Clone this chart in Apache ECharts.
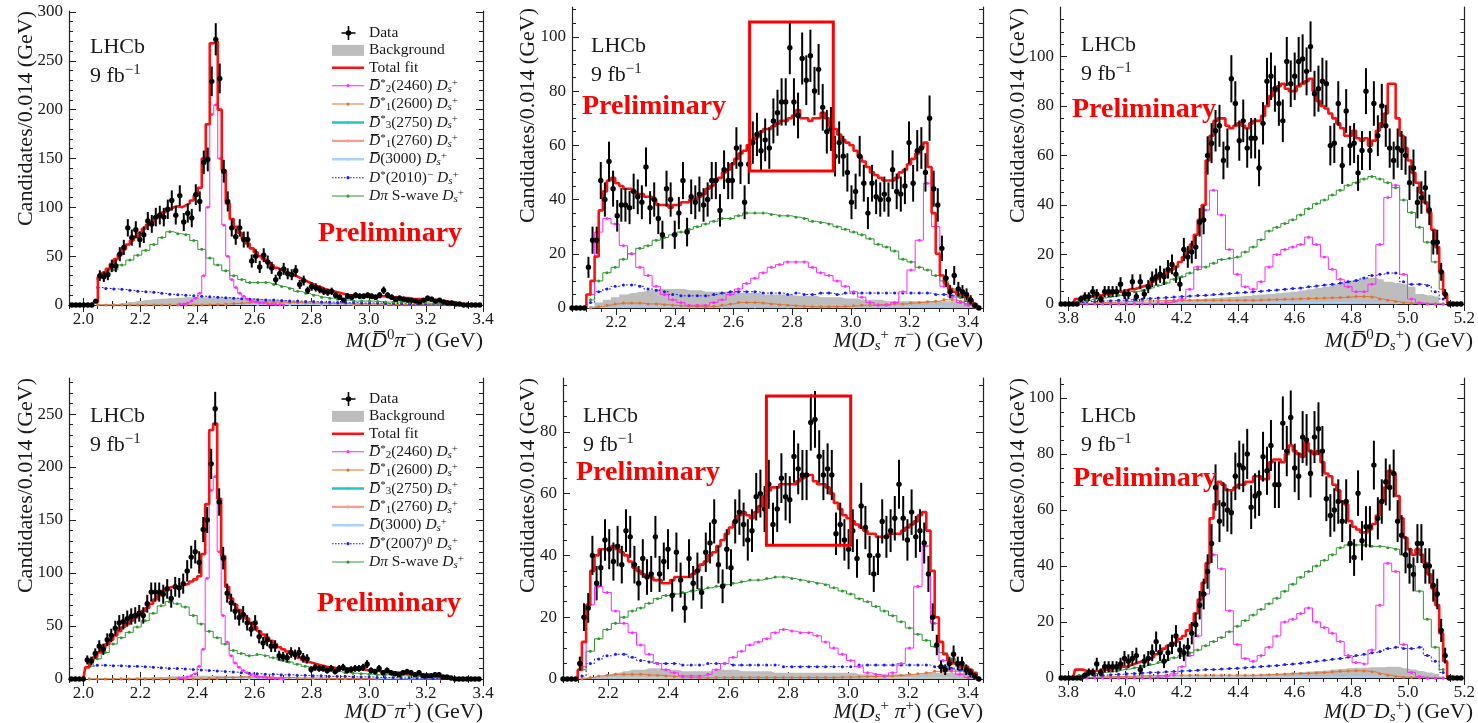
<!DOCTYPE html>
<html>
<head>
<meta charset="utf-8">
<title>LHCb amplitude fit projections</title>
<script src="https://cdn.jsdelivr.net/npm/echarts@6/dist/echarts.min.js"></script>
<style>
html, body { margin: 0; padding: 0; background: #fff; }
#main { width: 1478px; height: 723px; }
</style>
</head>
<body>
<div id="main"></div>
<script>
var BIN = 0.014, CBIN = 0.028, MBIN = 0.112;

// ---- M(D0bar pi-) , top left
var p1Start = 1.960;
var p1Data = [0,0,0,0,0,0,4,30,29,31,40,40,52,59,79,69,77,67,72,86,83,90,92,90,98,107,92,112,85,94,89,113,106,146,149,229,272,232,137,106,79,70,79,67,67,45,50,39,51,44,38,26,32,37,32,31,35,21,25,15,19,18,16,14,13,14,10,8,5,9,8,10,9,9,10,9,8,10,15,10,8,6,7,6,5,5,4,3,5,7,6,4,5,3,2,2,1,1,0,0,0,0,0];
var p1Fit = [0,0,0,0,0,0,3,29,33,37,42,47,52,57,62,66,70,74,78,82,85,89,92,95,98,100,101,100,102,104,107,112,120,150,185,268,270,200,138,104,88,80,74,68,63,58,54,50,47,44,41,38,36,34,32,31,29,27,25,23,21,19,18,16,15,14,13,12,11,10,10,9,9,9,9,9,9,9,9,8,8,8,7,7,7,6,6,6,5,5,5,5,4,4,3,3,2,1,1,0.5,0.3,0,0];
var p1CompStart = 2.051;
var p1Swave = [27,31,36,41,46,51,56,62,69,75,73,72,66,57,48,41,35,30,26,23,23,23,21,19,17,14,12,10,8,7,6,5,4,4,4,3.5,3,3,3,2.5,2,2,1.5,1.5,1,0.5,0.3,0];
var p1Dst = [18,17,16.5,16,15,14,13.5,13,12,11,10.5,10,9.5,9,8.5,8,7.5,7,6.5,6,5.5,5,5,4.5,4,4,3.5,3.5,3,3,2.5,2.5,2.5,2,2,2,1.5,1.5,1.5,1,1,1,1,0.5,0.5,0.5,0.3,0];
var p1Bkg = [0,0.5,1,2,3,4,5,6,6.5,7,7.5,8,8,8,8,8,8,7.5,7,7,6.5,6,5.5,5,4.5,4,3.5,3,3,2.5,2.5,2,2,2,1.5,1.5,1.5,1,1,1,1,0.5,0.5,0.5,0.5,0.3,0,0];
var p1D1 = [0,0,0,0,0,0,0,0,0,0,0,0,0,0,0.3,0.5,1,1.5,2,2.5,3,3,3,3,2.5,2.5,2,2,2,1.5,1.5,1.5,1,1,1,1,1,0.5,0.5,0.5,0.5,0.5,0.3,0.3,0.2,0,0,0];
var p1D2Start = 2.338;
var p1D2 = [1,1,2,4,7,12,30,100,195,205,150,82,50,26,18,12,9,6,4,3,2,2,1,1,0.5,0.5,0];
var p1Minor = [0.3,0.5,0.6,0.8,0.8,0.6,0.5,0.4,0.3,0.2,0.1,0.1];

// ---- M(Ds+ pi-) , top middle
var p2Start = 2.050;
var p2Data = [0,0,0,0,15,25,25,47,40,54,44,34,38,38,37,43,41,39,52,37,40,33,27,44,40,27,35,47,28,41,39,42,38,40,47,47,36,51,47,47,59,53,39,53,61,64,58,62,59,69,72,76,76,96,76,71,92,84,93,80,88,74,65,66,56,61,56,50,39,43,56,46,35,46,41,40,42,40,51,43,42,45,61,46,58,59,50,70,44,38,22,11,6,12,7,6,5,3,1,0];
var p2Fit = [0,0,0,0,5,10,19,36,43,47,48,46,45,44,44,43,42,42,41,41,40,38,38,38,37,38,38,39,39,40,40,41,42,44,45,47,48,50,51,53,55,57,58,60,62,63,65,66,66,67,68,69,69,70,71,73,70,70,69,70,70,72,70,67,66,64,62,61,60,58,56,54,52,50,49,48,47,47,47,48,50,51,53,55,57,59,61,52,35,20,12,9,7,6,5,5,4,3,1.5,0.5];
var p2CompStart = 2.113;
var p2D2 = [5,28,33,31,23,20,15,12,8,5,3,2,1,1,1,2,3,5,7,9,11,13,15,16,17,17,17,15,13,12,10,8,6,4,2,1,1,2,6,14,25,46,30,8,4,2,1,0];
var p2Swave = [3,10,13,15,18,20,22,23,25,26,27,28,29,30,31,32,33,33,34,35,35,35,34.5,34,34,33.5,33,32,31.5,31,30,29,28,27,25.5,23.5,22.5,21,18,17,15,14,12,10,7,4,1.5,0.5];
var p2Dst = [2,6,7,8,8.5,8.5,8,7,6.5,6,5,4.5,4.5,4.5,4.5,5,5.5,6,6,6,6,5.5,5.5,5.5,5,5.5,5,5,5.5,5.5,5,5.5,5.5,5.5,5.5,5.5,5.5,5.5,5.5,5.5,5.5,5.5,5,5,4.5,4,2.5,1];
var p2Bkg = [0.5,2,3,4,5,5.5,6,6.5,7,7,7,7,6.5,6.5,6,6,6,6,5.5,5.5,5.5,5,5,5,5,4.5,4.5,4.5,4,4,4,3.5,3.5,3,3,3,2.5,2.5,2.5,2.5,2.5,2.5,2.5,2.5,2.5,2,1.5,1];
var p2D1 = [0,0.5,1,1.5,1.8,1.8,1.8,1.5,1.5,1.2,1,0.8,0.6,0.5,0.5,0.6,1,1.5,2,2,2,1.8,1.5,1.2,1,0.8,0.6,0.5,0.5,0.5,0.5,0.6,0.8,1,1,1.2,1.3,1.5,1.5,1.8,2,2.3,2.5,3,3,2.5,2,1];
var p2Minor = [0.3,0.5,0.5,0.4,0.4,0.4,0.4,0.4,0.4,0.5,0.5,0.5];
var p2Box = [2.655, 50.5, 2.94, 105.5];

// ---- M(D0bar Ds+) , top right
var p3Start = 3.774;
var p3Data = [0,0,0,0,0,2,3,3,5,4,2,5,5,5,5,8,4,4,9,3,9,4,7,10,11,12,11,14,16,12,8,22,19,21,23,33,34,60,65,70,72,58,63,91,81,66,74,63,67,67,55,73,90,92,87,81,74,98,89,92,98,99,94,104,85,87,90,89,64,65,81,56,78,64,65,53,62,86,62,81,68,80,72,63,58,63,62,60,49,55,41,43,47,38,25,25,13,4,0,0,0,0];
var p3Fit = [0,0,0,0,2,2,2.5,3,3,3.5,3.5,4,4,4.5,5,5,5.5,6,6,6.5,7,7.5,8,9,10,11,12,13,14,15,17,19,21,24,28,34,40,58,68,74,75,75,72,71,72,73,72,71,73,74,74,76,80,84,86,88,89,87,86,86,88,89,90,91,86,82,80,79,77,75,73,71,68,68,70,67,66,67,64,66,70,73,77,89,89,75,68,63,58,53,49,45,41,37,30,23,13,4,0.5,0,0,0];
var p3CompStart = 3.837;
var p3D2 = [0,0,0,0,0,0,0,0,0,0,0.3,0.5,1,2,6,15,38,46,36,22,12,7,6,9,15,20,22,23,24,27,24,19,14,10,7,5,5,8,24,43,48,12,2,0.5,0,0,0];
var p3Swave = [1,1.5,2,2.5,3,3.5,4,5,5.5,6.5,7.5,8.5,10,11,12.5,14,15,16.5,18,18.5,19,21,23,26,29.5,31,32.5,34,36,38.5,40.5,42,44,46,48,49,50.5,51.5,50.5,49,47,42,37,31,25,17,6];
var p3Dst = [0.5,1,1,1.2,1.3,1.5,1.6,1.8,2,2.2,2.4,2.6,2.8,3,3.2,3.4,3.5,3.8,4,4.2,4.5,4.7,5,5.2,5.5,5.7,6,6.3,6.5,7,7.3,7.7,8,8.5,9,9.5,10.5,11.5,12,12.5,12.5,9,8,8,7.5,5,2];
var p3Bkg = [0,0,0,0.2,0.3,0.5,0.5,0.6,0.7,0.8,1,1.2,1.3,1.5,1.8,2,2.2,2.4,2.6,2.8,3,3.2,3.5,3.8,4,4.3,4.6,5,5.5,6,6.5,7,7.8,8.5,9.5,10,10.5,10.5,10,9,8.5,8,7,4,3.5,3,0.5];
var p3D1 = [0,0.3,0.5,0.6,0.7,0.8,1,1,1.2,1.2,1.3,1.4,1.5,1.5,1.5,1.5,1.5,1.5,1.5,1.5,1.5,1.5,1.5,1.6,1.7,1.8,1.9,2,2.1,2.2,2.3,2.4,2.5,2.6,2.8,3,3,2.8,2,1.5,1,0.5,0.3,0.2,0.1,0,0];
var p3Minor = [0.2,0.3,0.4,0.5,0.5,0.5,0.6,0.6,0.6,0.5,0.4,0.2];

// ---- M(D- pi+) , bottom left
var p4Start = 1.958;
var p4Data = [0,0,0,0,18,17,24,31,28,37,41,48,53,54,57,59,60,62,60,71,82,82,82,80,85,76,87,86,90,102,115,120,110,141,150,203,255,167,114,81,72,64,58,61,53,47,53,40,34,37,31,31,22,21,20,25,23,25,20,19,9,11,10,10,8,10,7,10,11,8,9,10,10,11,14,8,7,10,6,8,6,5,4,6,7,6,4,6,3,3,3,4,4,2,2,1,0,0,0,0,0,0,0];
var p4Fit = [0,0,0,0,11,17,21,25,29,33,37,41,45,49,52,55,58,61,64,67,71,75,79,83,86,87,87,88,89,90,92,94,97,118,165,235,241,170,116,87,76,70,65,61,57,53,49,45,42,39,36,33,30,28,26,24,22,20,18,16,15,14,13,12,11,11,10,10,10,10,9,9,9,9,8,8,8,7,7,7,6,6,6,5,5,5,4,4,4,3,3,2,2,1.5,1,0.5,0.3,0,0,0,0,0,0];
var p4CompStart = 2.021;
var p4Swave = [12,19,25,33,39,44,49,55,62,69,73,71,68,60,52,45,39,33,27,24,22,23,22,20,18,16,14,12,10,9,8,7,6,5.5,5,4.5,4,4,3.5,3,3,2.5,2.5,2,1.5,1,0.5,0.3,0];
var p4Dst = [12,13,13,12.5,12.5,12,12,11.5,11,10.5,10,10,9.5,9,8.5,8,7.5,7,6.5,6,5.5,5,4.5,4.5,4,4,3.5,3.5,3,3,2.5,2.5,2.5,2,2,2,1.5,1.5,1.5,1,1,1,1,0.5,0.5,0.5,0.3,0.2,0];
var p4Bkg = [0,0,0.5,0.5,1,1,1.5,1.5,2,2,2.5,2.5,3,3,3,3,3,2.5,2.5,2.5,2,2,2,1.5,1.5,1.5,1,1,1,1,0.5,0.5,0.5,0.5,0.5,0.3,0.3,0.3,0.2,0.2,0];
var p4D1 = [0,0,0,0,0,0,0,0,0,0,0,0,0,0,0,0.5,1,1.5,1.5,2,2,2,2,1.5,1.5,1.5,1,1,1,1,0.5,0.5,0.5,0.5,0.3,0.2,0];
var p4D2Start = 2.336;
var p4D2 = [1,1,2,3,5,12,28,95,178,191,120,60,35,22,15,11,8,6,4,3,2,2,1,1,0.5,0.5,0];
var p4Minor = [0.3,0.5,0.6,0.7,0.6,0.5,0.4,0.3,0.2,0.2,0.1,0.1];

// ---- M(Ds+ pi+) , bottom middle
var p5Start = 2.050;
var p5Data = [0,0,0,0,5,20,23,40,31,36,45,42,38,43,37,48,46,37,31,39,33,34,46,34,38,42,27,41,32,23,39,31,35,28,41,44,51,37,30,42,36,51,54,50,45,48,59,60,55,63,50,55,65,59,58,72,68,66,66,83,84,72,66,68,66,47,50,45,42,48,39,56,49,40,34,40,51,46,48,52,63,52,45,54,46,48,44,34,20,11,4,3,5,8,5,5,3,2,1,0];
var p5Fit = [0,0,0,0,3,12,24,35,40,42,42,42,43,42,41,40,38,36,35,34,33,33,32,32,31,31,32,33,33,33,33,34,35,37,38,40,41,43,45,47,49,51,53,54,53,52,54,56,59,61,62,62,63,63,63,63,64,65,66,66,64,63,63,62,60,57,55,53,52,51,50,49,48,47,47,46,46,46,47,47,47,48,49,50,51,53,54,48,35,20,12,8,6,5,5,4,4,3,2,0.5];
var p5CompStart = 2.113;
var p5D2 = [4,24,30,28,22,18,15,11,8,5,3,2,1,1,1,1.5,3,5,7,9,11,12,13,15,16,15.5,15,15,14,12,10,8,6,4,2,1.5,1,2,5,10,30,43,18,6,3,1.5,0.5,0];
var p5Swave = [3,9,13,16,18,20,22,23,24.5,26,27,27.5,28,28.5,29,29.5,30,30.5,31,31.5,32,32,32.5,33,33,32.5,32,31.5,31,30.5,29.5,28.5,27.5,26,25,23.5,22,20.5,18.5,16.5,14.5,12.5,10.5,8.5,6.5,4,2,0.5];
var p5Dst = [1,5,6.5,7.5,8,8,7,6,5.5,5,5,5,4.5,4.5,4.5,5,5,5,4.5,4.5,4.5,4.5,4.5,4.5,4,4,4,4,4,4,4,4,4,4.5,4.5,4.5,4.5,4.5,4.5,4.5,4.5,4.5,4,4,3.5,3,2,0.5];
var p5Bkg = [0,0.5,1,1.5,2,2.5,3,3,3.5,3.5,3,3,2.5,2.5,2.5,2.5,3,3,3,2.5,2.5,2.5,2.5,2,2,2,2,2,2,2,2,2,2,1.5,1.5,1.5,1.5,1.5,1.5,1.5,1.5,2,2,2,2,2,1.5,0.5];
var p5D1 = [0,0.5,1,1.2,1.5,1.5,1.5,1.5,1.3,1.2,1,0.8,0.6,0.5,0.4,0.4,0.5,0.5,0.5,0.5,0.5,0.5,0.5,0.5,0.5,0.5,0.5,0.5,0.5,0.5,0.5,0.6,0.6,0.7,0.8,0.8,0.9,1,1.2,1.5,1.7,2,2.5,2.5,2.5,2.5,2,1];
var p5Minor = [0.3,0.5,0.5,0.4,0.4,0.4,0.4,0.4,0.4,0.5,0.5,0.5];
var p5Box = [2.728, 43.3, 3.009, 91.6];

// ---- M(D- Ds+) , bottom right
var p6Start = 3.774;
var p6Data = [0,0,0,0,0,0,1,2,2,5,2,4,4,4,4,5,7,6,7,8,3,6,7,9,13,9,6,9,12,15,10,9,11,16,19,26,30,38,48,68,56,62,60,59,72,76,75,80,61,65,66,79,74,83,69,69,91,81,93,75,72,86,85,73,86,89,81,64,58,60,63,56,63,48,43,66,49,54,54,76,57,63,70,68,73,56,51,44,40,37,48,48,40,40,33,30,17,8,0,0,0,0];
var p6Fit = [0,0,0,0,3,3,2.5,2.5,2.5,2.5,3,3,3,3.5,3.5,4,4,4.5,5,5.5,6,6.5,7,7.5,8.5,9.5,10.5,11.5,12.5,13,14,15,17,19,23,28,34,41,57,62,70,69,67,67,68,69,69,70,70,72,72,71,71,77,78,78,77,80,83,81,80,79,84,81,80,81,77,73,72,69,67,63,62,56,54,53,52,52,53,55,58,63,68,74,73,65,57,50,46,44,46,44,41,37,32,26,16,6,0.5,0,0,0];
var p6CompStart = 3.837;
var p6D2 = [0,0,0,0,0,0,0,0,0,0,0.3,0.6,1.5,4,8,15,30,44,39,24,12,7,6,8,11,15,20,21,23,25,20,18,16,13,8,5.5,5,10,26,41,38,12,2,0.5,0,0,0];
var p6Swave = [1,1.3,1.6,2,2.4,2.8,3.2,3.7,4.2,4.8,5.5,6.3,7.2,8,9,10,11.5,13,14.5,16.5,18.5,20.5,22.5,24.5,26.5,28.5,31,33.5,36,38,40,42,44,46.5,47.5,47.5,47.5,47,47,46.5,46,44,40,31,21,11,3];
var p6Dst = [0.5,1,1,1,1.2,1.3,1.5,1.6,1.8,2,2,2.2,2.3,2.5,2.6,2.8,3,3,3.2,3.4,3.5,3.7,3.9,4.1,4.3,4.5,4.8,5,5.3,5.6,6,6.3,6.7,7,7.5,8,8.5,9,9.5,10.5,11,10.5,10.5,11,8,6,2];
var p6Bkg = [0,0,0,0,0,0,0,0,0,0,0.2,0.2,0.3,0.3,0.4,0.5,0.5,0.6,0.7,0.8,0.9,1,1.1,1.2,1.3,1.5,1.7,1.9,2.1,2.3,2.5,2.7,3,3.2,3.5,3.7,3.7,3.8,3.8,4,4,3.5,3,2.5,2,1.5,0.5];
var p6D1 = [0,0.2,0.3,0.4,0.5,0.5,0.6,0.7,0.8,0.8,0.9,1,1,1,1,1,1,1,1,1,1,1,1,1.1,1.2,1.3,1.4,1.5,1.6,1.7,1.8,2,2.2,2.4,2.5,2.6,2.5,2.2,1.5,1,0.5,0.3,0.2,0.1,0,0,0];
var p6Minor = [0.2,0.3,0.4,0.5,0.5,0.5,0.6,0.6,0.6,0.5,0.4,0.2];

var SERIF = '"Liberation Serif", "DejaVu Serif", serif';
var INK = '#1a1a1a';

function hist(start, step, vals) {
    return vals.map(function (v, i) { return [+(start + i * step).toFixed(4), v]; });
}
function range(a, b, s) {
    var out = [];
    for (var k = 0; a + k * s <= b + 1e-9; k++) out.push(+(a + k * s).toFixed(4));
    return out;
}

var panels = [
    {grid: {left: 69, top: 11, width: 414, height: 294}, x: [1.95, 3.4], xMaj: range(2.0, 3.4, 0.2), xMin: range(1.95, 3.4, 0.05),
     y: [0, 301], yMaj: range(0, 300, 50), yMin: range(0, 300, 10), dst: 'DstA',
     d: {start: p1Start, data: p1Data, fit: p1Fit, cs: p1CompStart, sw: p1Swave, dst: p1Dst, bkg: p1Bkg, d1: p1D1, d2s: p1D2Start, d2b: BIN, d2: p1D2, minor: p1Minor}},
    {grid: {left: 572, top: 7, width: 411, height: 301}, x: [2.05, 3.45], xMaj: range(2.2, 3.4, 0.2), xMin: range(2.05, 3.45, 0.05),
     y: [0, 111], yMaj: range(0, 100, 20), yMin: range(0, 110, 5), dst: 'DstA', box: p2Box,
     d: {start: p2Start, data: p2Data, fit: p2Fit, cs: p2CompStart, sw: p2Swave, dst: p2Dst, bkg: p2Bkg, d1: p2D1, d2s: p2CompStart, d2b: CBIN, d2: p2D2, minor: p2Minor}},
    {grid: {left: 1060, top: 7, width: 413, height: 297}, x: [3.77, 5.2], xMaj: range(3.8, 5.2, 0.2), xMin: range(3.8, 5.2, 0.05),
     y: [0, 120], yMaj: range(0, 100, 20), yMin: range(0, 115, 5), dst: 'DstA',
     d: {start: p3Start, data: p3Data, fit: p3Fit, cs: p3CompStart, sw: p3Swave, dst: p3Dst, bkg: p3Bkg, d1: p3D1, d2s: p3CompStart, d2b: CBIN, d2: p3D2, minor: p3Minor}},
    {grid: {left: 69, top: 378, width: 414, height: 301}, x: [1.95, 3.4], xMaj: range(2.0, 3.4, 0.2), xMin: range(1.95, 3.4, 0.05),
     y: [0, 284], yMaj: range(0, 250, 50), yMin: range(0, 280, 10), dst: 'DstB',
     d: {start: p4Start, data: p4Data, fit: p4Fit, cs: p4CompStart, sw: p4Swave, dst: p4Dst, bkg: p4Bkg, d1: p4D1, d2s: p4D2Start, d2b: BIN, d2: p4D2, minor: p4Minor}},
    {grid: {left: 563, top: 378, width: 420, height: 301}, x: [2.05, 3.45], xMaj: range(2.2, 3.4, 0.2), xMin: range(2.05, 3.45, 0.05),
     y: [0, 97.4], yMaj: range(0, 80, 20), yMin: range(0, 95, 5), dst: 'DstB', box: p5Box,
     d: {start: p5Start, data: p5Data, fit: p5Fit, cs: p5CompStart, sw: p5Swave, dst: p5Dst, bkg: p5Bkg, d1: p5D1, d2s: p5CompStart, d2b: CBIN, d2: p5D2, minor: p5Minor}},
    {grid: {left: 1060, top: 378, width: 413, height: 300}, x: [3.77, 5.2], xMaj: range(3.8, 5.2, 0.2), xMin: range(3.8, 5.2, 0.05),
     y: [0, 107.1], yMaj: range(0, 100, 20), yMin: range(0, 105, 5), dst: 'DstB',
     d: {start: p6Start, data: p6Data, fit: p6Fit, cs: p6CompStart, sw: p6Swave, dst: p6Dst, bkg: p6Bkg, d1: p6D1, d2s: p6CompStart, d2b: CBIN, d2: p6D2, minor: p6Minor}}
];

var AXIS_LINE = {show: true, lineStyle: {color: '#222', width: 1.2}};
function makeAxis(g, p, isY, position, major, withLabels) {
    var lim = isY ? p.y : p.x;
    var ax = {
        type: 'value', gridIndex: g, position: position, min: lim[0], max: lim[1],
        splitLine: {show: false},
        axisLine: major ? AXIS_LINE : {show: false},
        axisTick: {inside: true, length: major ? 7 : 4, customValues: major ? (isY ? p.yMaj : p.xMaj) : (isY ? p.yMin : p.xMin),
                   lineStyle: {color: '#222', width: 1}},
        axisLabel: {show: false}
    };
    if (withLabels) {
        ax.axisLabel = {show: true, customValues: isY ? p.yMaj : p.xMaj, margin: 6, color: INK,
                        fontFamily: SERIF, fontSize: 17,
                        formatter: isY ? function (v) { return String(v); } : function (v) { return v.toFixed(1); }};
    }
    return ax;
}

var xAxes = [], yAxes = [], grids = [], series = [];

function stepLine(name, g, pts, color, extra) {
    var s = {
        name: name, type: 'line', step: 'middle', xAxisIndex: 4 * g, yAxisIndex: 4 * g,
        data: pts, symbol: 'circle', symbolSize: 3, showSymbol: true, z: 3,
        itemStyle: {color: color}, lineStyle: {color: color, width: 1}
    };
    for (var k in extra) s[k] = extra[k];
    return s;
}

function dataSeries(g, pts) {
    return {
        name: 'Data', type: 'custom', xAxisIndex: 4 * g, yAxisIndex: 4 * g, z: 6,
        itemStyle: {color: '#000'},
        data: pts,
        encode: {x: 0, y: 1},
        renderItem: function (params, api) {
            var x = api.value(0), y = api.value(1), e = Math.sqrt(y);
            var c = api.coord([x, y]);
            var t = api.coord([x, y + e]), b = api.coord([x, y - e]);
            var l = api.coord([x - BIN / 2, y]), r = api.coord([x + BIN / 2, y]);
            return {type: 'group', children: [
                {type: 'line', shape: {x1: c[0], y1: t[1], x2: c[0], y2: b[1]}, style: {stroke: '#000', lineWidth: 2}},
                {type: 'line', shape: {x1: l[0], y1: c[1], x2: r[0], y2: c[1]}, style: {stroke: '#000', lineWidth: 1.5}},
                {type: 'circle', shape: {cx: c[0], cy: c[1], r: 2.7}, style: {fill: '#000'}}
            ]};
        }
    };
}

panels.forEach(function (p, g) {
    grids.push(p.grid);
    xAxes.push(makeAxis(g, p, false, 'bottom', true, true));
    xAxes.push(makeAxis(g, p, false, 'bottom', false, false));
    xAxes.push(makeAxis(g, p, false, 'top', true, false));
    xAxes.push(makeAxis(g, p, false, 'top', false, false));
    yAxes.push(makeAxis(g, p, true, 'left', true, true));
    yAxes.push(makeAxis(g, p, true, 'left', false, false));
    yAxes.push(makeAxis(g, p, true, 'right', true, false));
    yAxes.push(makeAxis(g, p, true, 'right', false, false));

    var d = p.d;
    series.push(stepLine('Background', g, hist(d.cs, CBIN, d.bkg), '#bdbdbd',
        {symbol: 'none', z: 1, lineStyle: {width: 0}, areaStyle: {color: '#bdbdbd', opacity: 1}}));
    series.push(stepLine('D3', g, hist(d.cs, MBIN, d.minor), '#1fc8c8', {symbolSize: 2.5}));
    series.push(stepLine('D1b', g, hist(d.cs, MBIN, d.minor), '#ff9a86', {symbolSize: 2.5}));
    series.push(stepLine('D3000', g, hist(d.cs, MBIN, d.minor), '#a9d3ff', {symbolSize: 2.5}));
    series.push(stepLine('D1', g, hist(d.cs, CBIN, d.d1), '#e4722a', {}));
    series.push(stepLine(p.dst, g, hist(d.cs, CBIN, d.dst), '#1a1aff', {lineStyle: {color: '#1a1aff', width: 1, type: [2, 2]}}));
    series.push(stepLine('Swave', g, hist(d.cs, CBIN, d.sw), '#2e9a2e', {}));
    series.push(stepLine('D2', g, hist(d.d2s, d.d2b, d.d2), '#ff2bff', {}));
    var fit = stepLine('Total fit', g, hist(d.start, BIN, d.fit), '#ff1010',
        {symbol: 'none', z: 4, lineStyle: {color: '#ff1010', width: 2.6}});
    if (p.box) {
        fit.markArea = {silent: true, z: 7,
            itemStyle: {color: 'rgba(0,0,0,0)', borderColor: '#ff0000', borderWidth: 3},
            data: [[{coord: [p.box[0], p.box[1]]}, {coord: [p.box[2], p.box[3]]}]]};
    }
    series.push(fit);
    series.push(dataSeries(g, hist(d.start, BIN, d.data)));
});

function rich(fs, lh, key) {
    var sm = Math.round(fs * 0.68);
    var base = {fontFamily: SERIF};
    function mk(o) { var r = {}; for (var k in base) r[k] = base[k]; for (var k2 in o) r[k2] = o[k2]; r[key] = INK; return r; }
    return {
        n: mk({fontSize: fs, lineHeight: lh, verticalAlign: 'middle'}),
        i: mk({fontSize: fs, lineHeight: lh, verticalAlign: 'middle', fontStyle: 'italic'}),
        sup: mk({fontSize: sm, lineHeight: sm, verticalAlign: 'top'}),
        sub: mk({fontSize: sm, lineHeight: sm, verticalAlign: 'bottom', fontStyle: 'italic'}),
        sb: mk({fontSize: sm, lineHeight: sm, verticalAlign: 'bottom'})
    };
}

var DS = '{i|D}{sub|s}{sup|+}';
var legendText = {
    'Data': '{n|Data}',
    'Background': '{n|Background}',
    'Total fit': '{n|Total fit}',
    'D2': '{i|D\u0305}{sup|*}{sb|2}{n|(2460) }' + DS,
    'D1': '{i|D\u0305}{sup|*}{sb|1}{n|(2600) }' + DS,
    'D3': '{i|D\u0305}{sup|*}{sb|3}{n|(2750) }' + DS,
    'D1b': '{i|D\u0305}{sup|*}{sb|1}{n|(2760) }' + DS,
    'D3000': '{i|D\u0305}{n|(3000) }' + DS,
    'DstA': '{i|D}{sup|*}{n|(2010)}{sup|\u2212}{n| }' + DS,
    'DstB': '{i|D\u0305}{sup|*}{n|(2007)}{sup|0}{n| }' + DS,
    'Swave': '{i|D\u03c0}{n| S-wave }' + DS
};

// legend glyphs, drawn in a 32x14 box (two corner specks fix the box size)
var BOXPIN = 'M0,0h0.1v0.1h-0.1z M31.9,13.9h0.1v0.1h-0.1z ';
var DOT = 'M17.6,7a1.6,1.6 0 1,1 -3.2,0a1.6,1.6 0 1,1 3.2,0z';
var DATA_ICON = 'path://' + BOXPIN + 'M15.7,0h1.6v14h-1.6z M9.5,6.2h14v1.6h-14z M19.2,7a2.7,2.7 0 1,1 -5.4,0a2.7,2.7 0 1,1 5.4,0z';
var LINE_ICON = 'path://' + BOXPIN + 'M0,6.5h32v1h-32z ' + DOT;
var BAND_ICON = 'path://' + BOXPIN + 'M0,5.8h32v2.4h-32z ' + DOT;
var FIT_ICON = 'path://' + BOXPIN + 'M0,5.7h32v2.6h-32z';
var dashes = '';
for (var dx = 0; dx < 32; dx += 3) dashes += 'M' + dx + ',6.5h1.6v1h-1.6z ';
var DASH_ICON = 'path://' + BOXPIN + dashes + DOT;

function legendItems(dst) {
    return [{name: 'Data', icon: DATA_ICON}, {name: 'Background', icon: 'path://M0,1.5h32v11h-32z'},
            {name: 'Total fit', icon: FIT_ICON}, {name: 'D2', icon: LINE_ICON}, {name: 'D1', icon: LINE_ICON},
            {name: 'D3', icon: BAND_ICON}, {name: 'D1b', icon: BAND_ICON}, {name: 'D3000', icon: BAND_ICON},
            {name: dst, icon: DASH_ICON}, {name: 'Swave', icon: LINE_ICON}];
}
function legendBox(top, dst) {
    return {
        orient: 'vertical', left: 327, top: top, itemWidth: 32, itemHeight: 14, itemGap: 1.4,
        selectedMode: false, data: legendItems(dst),
        formatter: function (n) { return legendText[n]; },
        textStyle: {fontFamily: SERIF, fontSize: 15.5, color: INK, rich: rich(15.5, 17, 'color')}
    };
}

// text annotations
var gfx = [];
var R22 = rich(22, 26, 'fill');
function txt(x, y, text, opts) {
    var st = {text: text, x: 0, y: 0, fill: INK, font: '22px ' + SERIF, rich: R22,
              align: 'left', textAlign: 'left', verticalAlign: 'middle', textVerticalAlign: 'middle'};
    for (var k in opts || {}) st[k] = opts[k];
    return {type: 'text', x: x, y: y, silent: true, z: 20, style: st};
}
var lhcbPos = [[90, 47], [591, 46], [1081, 45], [90, 416], [583, 416], [1081, 416]];
var prelimPos = [[318, 234], [582, 107], [1072, 110], [317, 604], [576, 473], [1073, 479]];
var yTitlePos = [[15, 11], [517, 8], [1007, 8], [15, 378], [517, 378], [1007, 378]];
var xTitles = [
    '{i|M}{n|(}{i|D\u0305}{sup|0}{i|\u03c0}{sup|\u2212}{n|) (GeV)}',
    '{i|M}{n|(}' + '{i|D}{sub|s}{sup|+}' + '{n| }{i|\u03c0}{sup|\u2212}{n|) (GeV)}',
    '{i|M}{n|(}{i|D\u0305}{sup|0}' + '{i|D}{sub|s}{sup|+}' + '{n|) (GeV)}',
    '{i|M}{n|(}{i|D}{sup|\u2212}{i|\u03c0}{sup|+}{n|) (GeV)}',
    '{i|M}{n|(}' + '{i|D}{sub|s}{sup|+}' + '{n| }{i|\u03c0}{sup|+}{n|) (GeV)}',
    '{i|M}{n|(}{i|D}{sup|\u2212}' + '{i|D}{sub|s}{sup|+}' + '{n|) (GeV)}'
];
panels.forEach(function (p, g) {
    gfx.push(txt(lhcbPos[g][0], lhcbPos[g][1], '{n|LHCb}'));
    gfx.push(txt(lhcbPos[g][0], lhcbPos[g][1] + 29, '{n|9 fb}{sup|\u22121}'));
    gfx.push(txt(prelimPos[g][0], prelimPos[g][1], 'Preliminary',
        {font: 'bold 28px ' + SERIF, fill: '#ff0000', rich: null}));
    var yt = txt(yTitlePos[g][0], yTitlePos[g][1], 'Candidates/0.014 (GeV)',
        {rich: null, align: 'right', textAlign: 'right', verticalAlign: 'top', textVerticalAlign: 'top'});
    yt.rotation = Math.PI / 2;
    gfx.push(yt);
    var xr = p.grid.left + p.grid.width;
    var xy = g < 3 ? 341 : 712;
    gfx.push(txt(xr, xy, xTitles[g], {align: 'right', textAlign: 'right'}));
});

var chart = echarts.init(document.getElementById('main'), null, {renderer: 'canvas'});
chart.setOption({
    animation: false,
    backgroundColor: '#ffffff',
    textStyle: {fontFamily: SERIF},
    grid: grids,
    xAxis: xAxes,
    yAxis: yAxes,
    legend: [legendBox(20, 'DstA'), legendBox(386, 'DstB')],
    graphic: {elements: gfx},
    series: series
});
window.onresize = function () { chart.resize(); };
</script>
</body>
</html>
